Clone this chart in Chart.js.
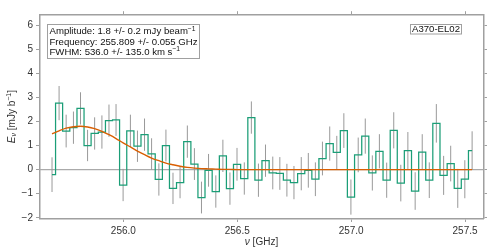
<!DOCTYPE html>
<html lang="en">
<head>
<meta charset="UTF-8">
<title>A370-EL02 spectrum</title>
<script src="https://cdn.jsdelivr.net/npm/chart.js"></script>
<style>
  html, body { margin: 0; padding: 0; background: #fff; }
  #wrap { width: 498px; height: 249px; }
</style>
</head>
<body>
<div id="wrap"><canvas id="spec" width="498" height="249"></canvas></div>
<script>
  // channel centres (GHz)
  const freqGHz = [
    255.687, 255.718, 255.749, 255.781, 255.812, 255.843, 255.874, 255.906, 255.937, 255.968,
    255.999, 256.031, 256.062, 256.093, 256.124, 256.156, 256.187, 256.218, 256.249, 256.281,
    256.312, 256.343, 256.374, 256.406, 256.437, 256.468, 256.499, 256.531, 256.562, 256.593,
    256.624, 256.656, 256.687, 256.718, 256.749, 256.781, 256.812, 256.843, 256.874, 256.906,
    256.937, 256.968, 256.999, 257.031, 257.062, 257.093, 257.124, 257.156, 257.187, 257.218,
    257.249, 257.281, 257.312, 257.343, 257.374, 257.406, 257.437, 257.468, 257.499, 257.531
  ];
  // flux per channel (mJy/beam)
  const fluxMJy = [
    -0.21, 2.76, 1.60, 1.74, 2.54, 1.00, 1.50, 1.56, 2.03, 2.06,
    -0.64, 1.61, 0.97, 1.45, 0.65, -0.41, 1.00, -0.78, -0.54, 1.16,
    0.23, -1.16, -0.03, -0.91, 0.57, -0.79, 0.22, -0.37, 2.16, -0.44,
    0.37, -0.14, -0.16, -0.44, -0.54, -0.17, -0.03, -0.40, 0.46, 1.08,
    0.71, 1.62, -1.14, 0.61, 1.39, -0.14, 0.76, -0.44, 1.63, -0.56,
    0.79, -0.89, 0.73, -0.44, 1.92, -0.24, 0.25, -0.78, -0.40, 0.79
  ];
  const fluxErr = [
    0.72, 0.71, 0.68, 0.67, 0.67, 0.65, 0.67, 0.69, 0.67, 0.66,
    0.67, 0.67, 0.65, 0.67, 0.65, 0.67, 0.66, 0.65, 0.65, 0.67,
    0.66, 0.66, 0.68, 0.67, 0.67, 0.67, 0.68, 0.67, 0.67, 0.69,
    0.67, 0.68, 0.68, 0.68, 0.69, 0.69, 0.72, 0.70, 0.70, 0.71,
    0.69, 0.72, 0.73, 0.72, 0.73, 0.73, 0.71, 0.73, 0.75, 0.76,
    0.77, 0.78, 0.74, 0.74, 0.80, 0.81, 0.74, 0.81, 0.79, 0.80
  ];
  // orange fit curve, read at the channel centres
  const gaussFit = [
    1.48, 1.61, 1.72, 1.78, 1.80, 1.77, 1.70, 1.59, 1.45, 1.29,
    1.11, 0.94, 0.77, 0.62, 0.48, 0.37, 0.27, 0.20, 0.14, 0.09,
    0.06, 0.04, 0.03, 0.02, 0.01, 0.01, 0.00, 0.00, 0.00, 0.00,
    0.00, 0.00, 0.00, 0.00, 0.00, 0.00, 0.00, 0.00, 0.00, 0.00,
    0.00, 0.00, 0.00, 0.00, 0.00, 0.00, 0.00, 0.00, 0.00, 0.00,
    0.00, 0.00, 0.00, 0.00, 0.00, 0.00, 0.00, 0.00, 0.00, 0.00
  ];
  const xTicks = [256.0, 256.5, 257.0, 257.5];
  const xTickLabels = ['256.0', '256.5', '257.0', '257.5'];
  const yTicks = [-2, -1, 0, 1, 2, 3, 4, 5, 6];
  const yTickLabels = ['\u22122', '\u22121', '0', '1', '2', '3', '4', '5', '6'];
  const fitLines = [
    ['Amplitude: 1.8 +/- 0.2 mJy beam', '\u22121'],
    ['Frequency: 255.809 +/- 0.055 GHz', ''],
    ['FWHM: 536.0 +/- 135.0 km s', '\u22121']
  ];
  const sourceName = 'A370-EL02';

  const FONT = '"Liberation Sans", Arial, sans-serif';
  const AXIS_GREY = '#a0a0a0';
  const TEXT_COL = '#333';

  function xAxis(pos, size, labels) {
    return {
      type: 'linear', position: pos, min: 255.632, max: 257.581,
      afterBuildTicks: s => { s.ticks = xTicks.map(v => ({ value: v })); },
      afterFit: s => { s.height = size; },
      ticks: {
        display: labels, autoSkip: false, maxRotation: 0, padding: 3,
        color: TEXT_COL, font: { family: FONT, size: 10 },
        callback: (v, i) => xTickLabels[i]
      },
      grid: { drawOnChartArea: false, drawTicks: true, tickLength: 3.5, color: AXIS_GREY, lineWidth: 1 },
      border: { display: true, color: AXIS_GREY, width: 1.5 }
    };
  }
  function yAxis(pos, size, labels) {
    return {
      type: 'linear', position: pos, min: -2.03, max: 6.43,
      afterBuildTicks: s => { s.ticks = yTicks.map(v => ({ value: v })); },
      afterFit: s => { s.width = size; },
      ticks: {
        display: labels, autoSkip: false, padding: 3,
        color: TEXT_COL, font: { family: FONT, size: 10 },
        callback: (v, i) => yTickLabels[i]
      },
      grid: { drawOnChartArea: false, drawTicks: true, tickLength: 3.5, color: AXIS_GREY, lineWidth: 1 },
      border: { display: true, color: AXIS_GREY, width: 1.5 }
    };
  }

  // width of a row of text pieces (normal / small, italic)
  function richWidth(ctx, parts, size) {
    let w = 0;
    parts.forEach(p => {
      ctx.font = (p.italic ? 'italic ' : '') + (p.small ? size * 0.7 : size) + 'px ' + FONT;
      w += ctx.measureText(p.t).width;
    });
    return w;
  }
  function drawRich(ctx, parts, x, y, size) {
    parts.forEach(p => {
      const fs = p.small ? size * 0.7 : size;
      ctx.font = (p.italic ? 'italic ' : '') + fs + 'px ' + FONT;
      ctx.fillText(p.t, x, y + (p.dy || 0));
      x += ctx.measureText(p.t).width;
    });
  }

  const decor = {
    id: 'decor',
    beforeDatasetsDraw(chart) {
      const ctx = chart.ctx, a = chart.chartArea;
      const xs = chart.scales.x, ys = chart.scales.y;
      ctx.save();
      ctx.beginPath();
      ctx.rect(a.left, a.top, a.right - a.left, a.bottom - a.top);
      ctx.clip();
      // zero line
      const y0 = ys.getPixelForValue(0);
      ctx.strokeStyle = '#aaaaaa';
      ctx.lineWidth = 1.3;
      ctx.beginPath();
      ctx.moveTo(a.left, y0);
      ctx.lineTo(a.right, y0);
      ctx.stroke();
      // error bars
      ctx.strokeStyle = '#999999';
      ctx.lineWidth = 1;
      freqGHz.forEach((f, i) => {
        const px = xs.getPixelForValue(f);
        ctx.beginPath();
        ctx.moveTo(px, ys.getPixelForValue(fluxMJy[i] + fluxErr[i]));
        ctx.lineTo(px, ys.getPixelForValue(fluxMJy[i] - fluxErr[i]));
        ctx.stroke();
      });
      ctx.restore();
    },
    afterDraw(chart) {
      const ctx = chart.ctx, a = chart.chartArea;
      ctx.save();
      ctx.fillStyle = '#111';
      ctx.textBaseline = 'middle';
      ctx.textAlign = 'left';

      // fit results box
      const fs = 9.6;
      const rows = fitLines.map(l => {
        const parts = [{ t: l[0] }];
        if (l[1]) parts.push({ t: l[1], small: true, dy: -3 });
        return parts;
      });
      let maxW = 0;
      rows.forEach(r => { maxW = Math.max(maxW, richWidth(ctx, r, fs)); });
      const bx = 47.5, by = 24.5;
      rows.forEach((r, i) => drawRich(ctx, r, bx + 2, 31.7 + i * 10.3, fs));
      ctx.strokeStyle = AXIS_GREY;
      ctx.lineWidth = 1;
      ctx.strokeRect(bx, by, maxW + 4, 34);

      // source name box
      ctx.font = fs + 'px ' + FONT;
      const nw = ctx.measureText(sourceName).width;
      const nx = 461.5 - nw - 1.5;
      ctx.fillText(sourceName, nx, 29.5);
      ctx.strokeRect(nx - 1.5, 24.5, nw + 3, 9.5);

      // axis titles
      ctx.fillStyle = TEXT_COL;
      const xt = [{ t: '\u03bd', italic: true }, { t: ' [GHz]' }];
      const xw = richWidth(ctx, xt, 10);
      drawRich(ctx, xt, (a.left + a.right) / 2 - xw / 2, 242, 10);

      const yt = [
        { t: 'E', italic: true },
        { t: '\u03bd', italic: true, small: true, dy: 2.5 },
        { t: ' [mJy b' },
        { t: '\u22121', small: true, dy: -3 },
        { t: ']' }
      ];
      const yw = richWidth(ctx, yt, 10);
      ctx.translate(12, (a.top + a.bottom) / 2);
      ctx.rotate(-Math.PI / 2);
      drawRich(ctx, yt, -yw / 2, 0, 10);
      ctx.restore();
    }
  };

  new Chart(document.getElementById('spec').getContext('2d'), {
    type: 'line',
    data: {
      datasets: [
        {
          label: 'flux',
          data: freqGHz.map((f, i) => ({ x: f, y: fluxMJy[i] })),
          stepped: 'middle',
          borderColor: '#1b9e77',
          borderWidth: 1.25,
          pointRadius: 0,
          fill: false,
          order: 2
        },
        {
          label: 'fit',
          data: freqGHz.map((f, i) => ({ x: f, y: gaussFit[i] })),
          borderColor: '#d95f02',
          borderWidth: 1.4,
          pointRadius: 0,
          cubicInterpolationMode: 'monotone',
          fill: false,
          order: 1
        }
      ]
    },
    options: {
      responsive: false,
      animation: false,
      devicePixelRatio: 1,
      layout: { padding: 0 },
      plugins: { legend: { display: false }, tooltip: { enabled: false } },
      scales: {
        x: xAxis('bottom', 30.5, true),
        x2: xAxis('top', 14.7, false),
        y: yAxis('left', 39.5, true),
        y2: yAxis('right', 14.5, false)
      }
    },
    plugins: [decor]
  });
</script>
</body>
</html>
